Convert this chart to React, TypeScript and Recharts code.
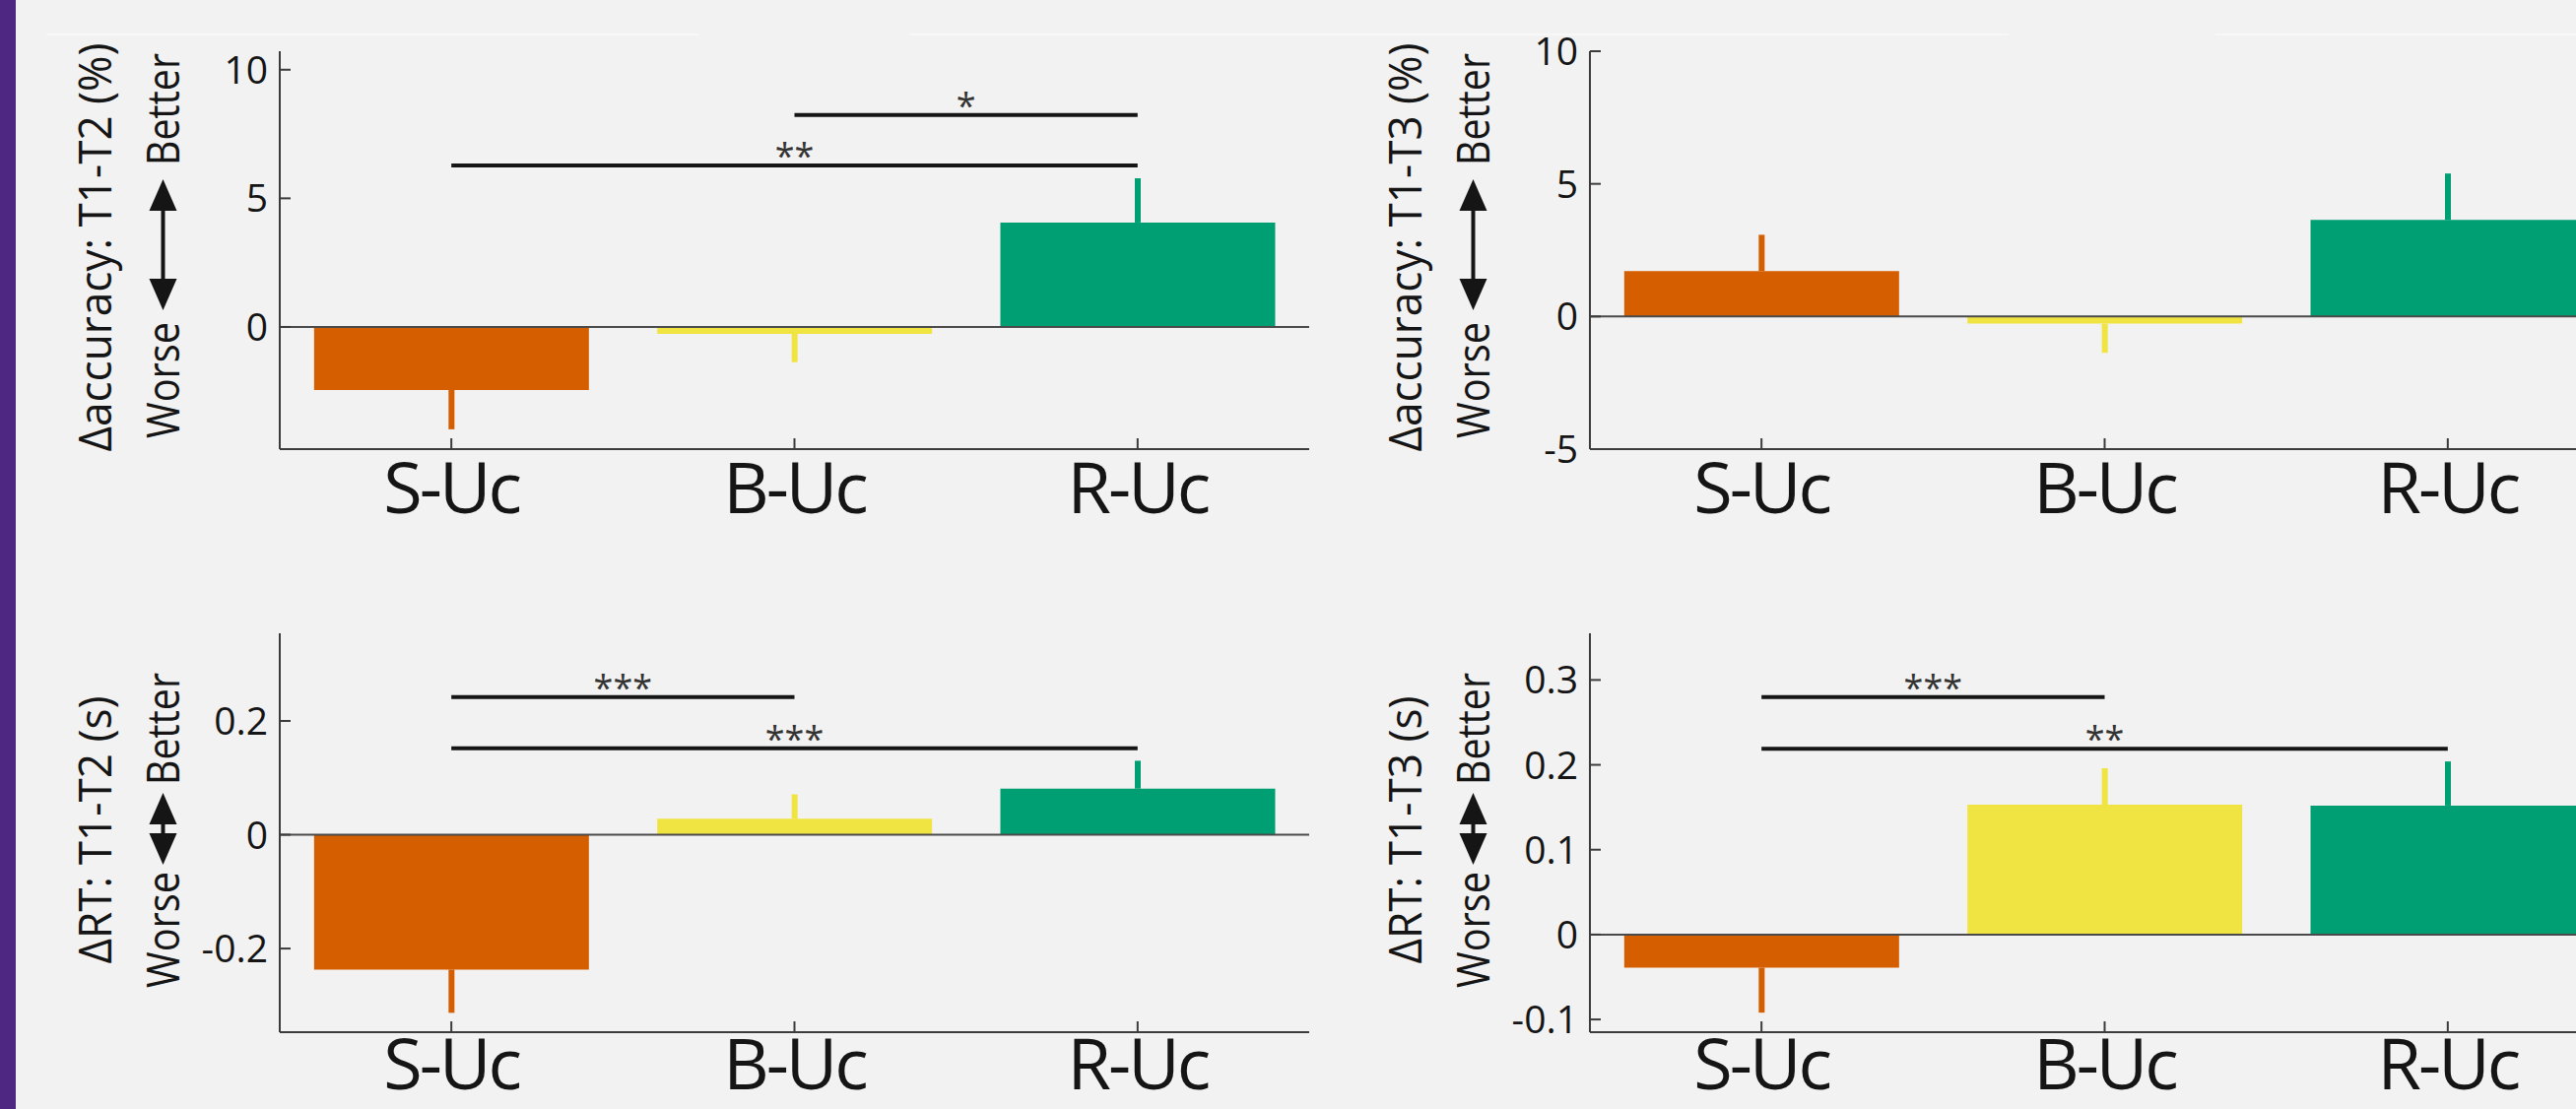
import React from "react"
import { BarChart, Bar, XAxis, YAxis, Cell, ErrorBar, ReferenceLine } from "recharts"

const FONT = '"Open Sans", "Noto Sans", sans-serif'
const INK = "#151515"
const AXIS = "#3c3c3c"
const BG = "#f2f2f2"

const categories = ["S-Uc", "B-Uc", "R-Uc"]
const barColors = ["#d55e00", "#f0e442", "#009e73"]

// Δaccuracy T1-T2 (%)
const accT2Values = [-2.45, -0.27, 4.06]
const accT2Errors = [1.53, 1.1, 1.72]
const accT2Ticks = [0, 5, 10]
const accT2Domain = [-4.75, 10.72]

// Δaccuracy T1-T3 (%)
const accT3Values = [1.71, -0.27, 3.64]
const accT3Errors = [1.37, 1.1, 1.75]
const accT3Ticks = [-5, 0, 5, 10]
const accT3Domain = [-5, 10]

// ΔRT T1-T2 (s)
const rtT2Values = [-0.237, 0.028, 0.081]
const rtT2Errors = [0.076, 0.043, 0.049]
const rtT2Ticks = [-0.2, 0, 0.2]
const rtT2Domain = [-0.347, 0.354]

// ΔRT T1-T3 (s)
const rtT3Values = [-0.039, 0.153, 0.152]
const rtT3Errors = [0.053, 0.043, 0.052]
const rtT3Ticks = [-0.1, 0, 0.1, 0.2, 0.3]
const rtT3Domain = [-0.115, 0.355]

type Sig = { from: string; to: string; y: number; stars: string }

const accT2Sig: Sig[] = [
  { from: "S-Uc", to: "R-Uc", y: 6.28, stars: "**" },
  { from: "B-Uc", to: "R-Uc", y: 8.24, stars: "*" },
]
const accT3Sig: Sig[] = []
const rtT2Sig: Sig[] = [
  { from: "S-Uc", to: "B-Uc", y: 0.242, stars: "***" },
  { from: "S-Uc", to: "R-Uc", y: 0.152, stars: "***" },
]
const rtT3Sig: Sig[] = [
  { from: "S-Uc", to: "B-Uc", y: 0.28, stars: "***" },
  { from: "S-Uc", to: "R-Uc", y: 0.219, stars: "**" },
]

const W = 1400

// "Worse <-> Better" pieces, measured along the axis from the label's middle
const titleLayouts = {
  long: { shift: -4, titleLen: 415, better: 82, worse: -77, arrowFrom: -65, arrowTo: 68 },
  short: { shift: -2.5, titleLen: 272, better: 46, worse: -42, arrowFrom: -35, arrowTo: 38 },
}

function XTick({ x, y, payload, baseline }: any) {
  const axisY = y - 14
  return (
    <g>
      <line x1={x} x2={x} y1={axisY} y2={axisY - 11} stroke={AXIS} strokeWidth={2} />
      <text x={x} y={y + baseline} textAnchor="middle" fontSize={72} letterSpacing={-3} fill={INK} fontFamily={FONT}>
        {payload.value}
      </text>
    </g>
  )
}

function YTick({ x, y, payload }: any) {
  const axisX = x + 12
  return (
    <g>
      <line x1={axisX} x2={axisX + 11} y1={y} y2={y} stroke={AXIS} strokeWidth={2} />
      <text x={x} y={y + 14} textAnchor="end" fontSize={39} fill={INK} fontFamily={FONT}>
        {String(payload.value)}
      </text>
    </g>
  )
}

function AxisTitle({ viewBox, title, compact }: any) {
  const vb = viewBox && viewBox.width != null ? viewBox : { x: 164, y: 52, width: 120, height: 404 }
  const axisX = vb.x + vb.width
  const cy = vb.y + vb.height / 2
  const L = compact ? titleLayouts.short : titleLayouts.long
  const tx = axisX - 171
  const ty = cy - 3
  const wx = axisX - 102
  const head = 32
  const half = 14
  const mid = -16.5
  return (
    <g fontFamily={FONT} fill={INK}>
      <text
        x={tx}
        y={ty}
        transform={`rotate(-90 ${tx} ${ty})`}
        textAnchor="middle"
        fontSize={46}
        textLength={L.titleLen}
        lengthAdjust="spacingAndGlyphs"
      >
        {title}
      </text>
      <g transform={`translate(${wx} ${cy + L.shift}) rotate(-90)`}>
        <text x={L.worse - 118} y={0} fontSize={46} textLength={118} lengthAdjust="spacingAndGlyphs">
          Worse
        </text>
        <text x={L.better} y={0} fontSize={46} textLength={114} lengthAdjust="spacingAndGlyphs">
          Better
        </text>
        <line x1={L.arrowFrom + head - 2} x2={L.arrowTo - head + 2} y1={mid} y2={mid} stroke={INK} strokeWidth={4} />
        <polygon points={`${L.arrowTo},${mid} ${L.arrowTo - head},${mid - half} ${L.arrowTo - head},${mid + half}`} />
        <polygon points={`${L.arrowFrom},${mid} ${L.arrowFrom + head},${mid - half} ${L.arrowFrom + head},${mid + half}`} />
      </g>
    </g>
  )
}

interface PanelProps {
  left: number
  top: number
  height: number
  values: number[]
  errors: number[]
  domain: number[]
  ticks: number[]
  title: string
  sig: Sig[]
  compact?: boolean
}

function Panel({ left, top, height, values, errors, domain, ticks, title, sig, compact }: PanelProps) {
  const rows = categories.map((cat, i) => {
    const row: Record<string, unknown> = { cat, value: values[i] }
    // one-sided error bar, pointing away from zero, coloured like its bar
    row[`err${i}`] = values[i] < 0 ? [errors[i], 0] : [0, errors[i]]
    return row
  })
  const xAxisHeight = 70
  const plotBottom = compact ? 457 : 456
  // bottom row sits on the page edge, keep its labels inside
  const labelBaseline = compact ? 44 : 51

  return (
    <div style={{ position: "absolute", left, top }}>
      <BarChart
        width={W}
        height={height}
        data={rows}
        margin={{ top: 52, right: 71, bottom: height - plotBottom - xAxisHeight, left: 164 }}
        barCategoryGap="10%"
      >
        <XAxis
          dataKey="cat"
          height={xAxisHeight}
          interval={0}
          axisLine={{ stroke: AXIS, strokeWidth: 2 }}
          tickLine={false}
          tickSize={0}
          tickMargin={14}
          tick={(p: any) => <XTick {...p} baseline={labelBaseline} />}
        />
        <YAxis
          type="number"
          domain={domain}
          ticks={ticks}
          allowDataOverflow
          interval={0}
          width={120}
          axisLine={{ stroke: AXIS, strokeWidth: 2 }}
          tickLine={false}
          tickSize={0}
          tickMargin={12}
          tick={(p: any) => <YTick {...p} />}
          label={{ content: (p: any) => <AxisTitle viewBox={p.viewBox} title={title} compact={compact} /> }}
        />
        <Bar dataKey="value" isAnimationActive={false}>
          {rows.map((_, i) => (
            <Cell key={categories[i]} fill={barColors[i]} />
          ))}
          {barColors.map((c, i) => (
            <ErrorBar
              key={c}
              dataKey={`err${i}`}
              direction="y"
              width={0}
              strokeWidth={6}
              stroke={c}
              isAnimationActive={false}
            />
          ))}
        </Bar>
        <ReferenceLine y={0} stroke="#4a4a4a" strokeWidth={2} />
        {sig.map((s) => (
          <ReferenceLine
            key={s.from + s.to}
            segment={[
              { x: s.from, y: s.y },
              { x: s.to, y: s.y },
            ]}
            stroke={INK}
            strokeWidth={4}
            label={{ value: s.stars, position: "top", offset: -3, fontSize: 36, fill: "#333", fontFamily: FONT }}
          />
        ))}
      </BarChart>
    </div>
  )
}

export default function App() {
  return (
    <div
      style={{
        position: "absolute",
        left: 0,
        top: 0,
        width: 2615,
        height: 1126,
        overflow: "hidden",
        background: BG,
        fontFamily: FONT,
      }}
    >
      <div style={{ position: "absolute", left: 0, top: 0, width: 16, height: 1126, background: "#4e2783" }} />
      <div style={{ position: "absolute", left: 47, top: 34, width: 663, height: 2, background: "#f8f8f8" }} />
      <div style={{ position: "absolute", left: 924, top: 34, width: 1115, height: 2, background: "#f8f8f8" }} />
      <div style={{ position: "absolute", left: 2249, top: 34, width: 366, height: 2, background: "#f8f8f8" }} />

      <Panel left={0} top={0} height={560} values={accT2Values} errors={accT2Errors} domain={accT2Domain}
        ticks={accT2Ticks} title="Δaccuracy: T1-T2 (%)" sig={accT2Sig} />
      <Panel left={1330} top={0} height={560} values={accT3Values} errors={accT3Errors} domain={accT3Domain}
        ticks={accT3Ticks} title="Δaccuracy: T1-T3 (%)" sig={accT3Sig} />
      <Panel left={0} top={591} height={535} values={rtT2Values} errors={rtT2Errors} domain={rtT2Domain}
        ticks={rtT2Ticks} title="ΔRT: T1-T2 (s)" sig={rtT2Sig} compact />
      <Panel left={1330} top={591} height={535} values={rtT3Values} errors={rtT3Errors} domain={rtT3Domain}
        ticks={rtT3Ticks} title="ΔRT: T1-T3 (s)" sig={rtT3Sig} compact />
    </div>
  )
}
